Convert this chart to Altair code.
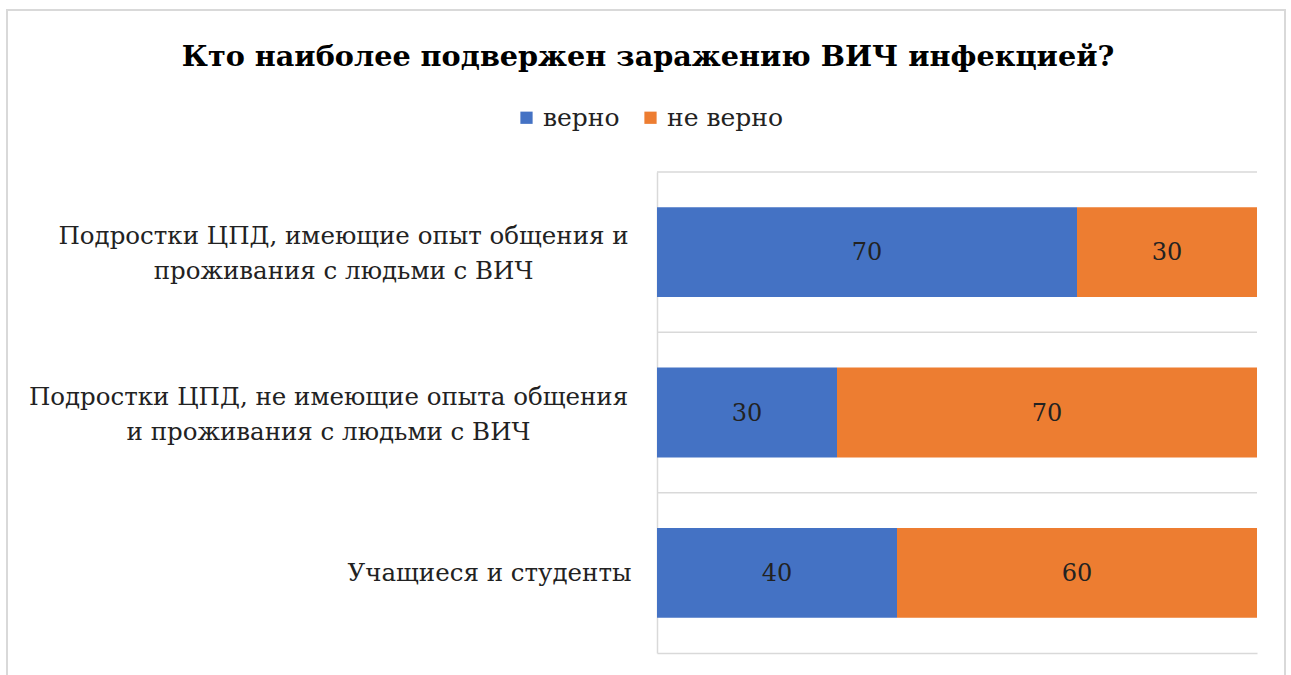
import altair as alt
import pandas as pd

categories = [
    "Подростки ЦПД, имеющие опыт общения и\nпроживания с людьми с ВИЧ",
    "Подростки ЦПД, не имеющие опыта общения\nи проживания с людьми с ВИЧ",
    "Учащиеся и студенты",
]
series = ["верно", "не верно"]
verno = [70, 30, 40]
ne_verno = [30, 70, 60]
colors = ["#4472C4", "#ED7D31"]

rows = []
for c, a, b in zip(categories, verno, ne_verno):
    rows.append({"category": c, "series": series[0], "order": 0, "value": a})
    rows.append({"category": c, "series": series[1], "order": 1, "value": b})
df = pd.DataFrame(rows)
cat_df = pd.DataFrame({"category": categories})

FONT = "DejaVu Serif"
GRID = "#d9d9d9"

base = alt.Chart(df).transform_stack(
    stack="value", groupby=["category"], as_=["v0", "v1"],
    sort=[alt.SortField("order")]
).transform_calculate(mid="(datum.v0 + datum.v1) / 2")

y_enc = alt.Y(
    "category:N", sort=categories, title=None,
    scale=alt.Scale(paddingInner=0, paddingOuter=0),
    axis=alt.Axis(
        labelExpr="split(datum.label, '\\n')",
        labelFont=FONT, labelFontSize=24.5, labelColor="#222222",
        labelAlign="center", labelLineHeight=35, labelLimit=0,
        labelPadding={"condition": [
            {"test": "datum.index == 0", "value": 314},
            {"test": "datum.index > 0.9", "value": 168},
        ], "value": 329},
        labelOffset={"condition": {"test": "datum.index > 0.9", "value": 1}, "value": -15},
        ticks=False, grid=False, domain=True, domainColor=GRID, domainWidth=1.5,
    ),
)
x_axis = alt.Axis(labels=False, ticks=False, grid=False, domain=True,
                  domainColor=GRID, domainWidth=1.5, title=None)

border = alt.Chart(pd.DataFrame({"k": [0]})).mark_rect(
    fillOpacity=0, stroke=GRID, strokeWidth=2
).encode(x=alt.value(-650), x2=alt.value(628), y=alt.value(-162), y2=alt.value(530))

grid = alt.Chart(cat_df).mark_rule(color=GRID, strokeWidth=1.5).encode(
    y=alt.Y("category:N", sort=categories, bandPosition=0)
)

bars = base.mark_bar(height={"band": 0.56}).encode(
    x=alt.X("v0:Q", scale=alt.Scale(domain=[0, 100], nice=False), axis=x_axis),
    x2="v1:Q",
    y=y_enc,
    color=alt.Color("series:N", sort=series,
                    scale=alt.Scale(domain=series, range=colors),
                    legend=alt.Legend(title=None, orient="none", legendX=-143, legendY=-67,
                                      direction="horizontal", symbolType="square",
                                      symbolSize=150, symbolStrokeWidth=0,
                                      labelFont=FONT, labelFontSize=25, labelColor="#222222",
                                      labelOffset=4, columnPadding=18, padding=0)),
)

labels = base.mark_text(font=FONT, fontSize=24, color="#222222", dy=1).encode(
    x="mid:Q",
    y=alt.Y("category:N", sort=categories),
    text="value:Q",
)

chart = alt.layer(border, grid, bars, labels).properties(
    width=600, height=481,
    padding={"left": 657, "top": 172, "right": 34, "bottom": 22},
    autosize=alt.AutoSizeParams(type="none"),
    title=alt.TitleParams(
        "Кто наиболее подвержен заражению ВИЧ инфекцией?",
        font=FONT, fontSize=28.7, fontWeight="bold", color="black",
        anchor="middle", dx=-309, offset=-86, baseline="alphabetic",
    ),
).configure_view(strokeWidth=0)

chart.save("out.html", embed_options={"renderer": "svg", "actions": False})
